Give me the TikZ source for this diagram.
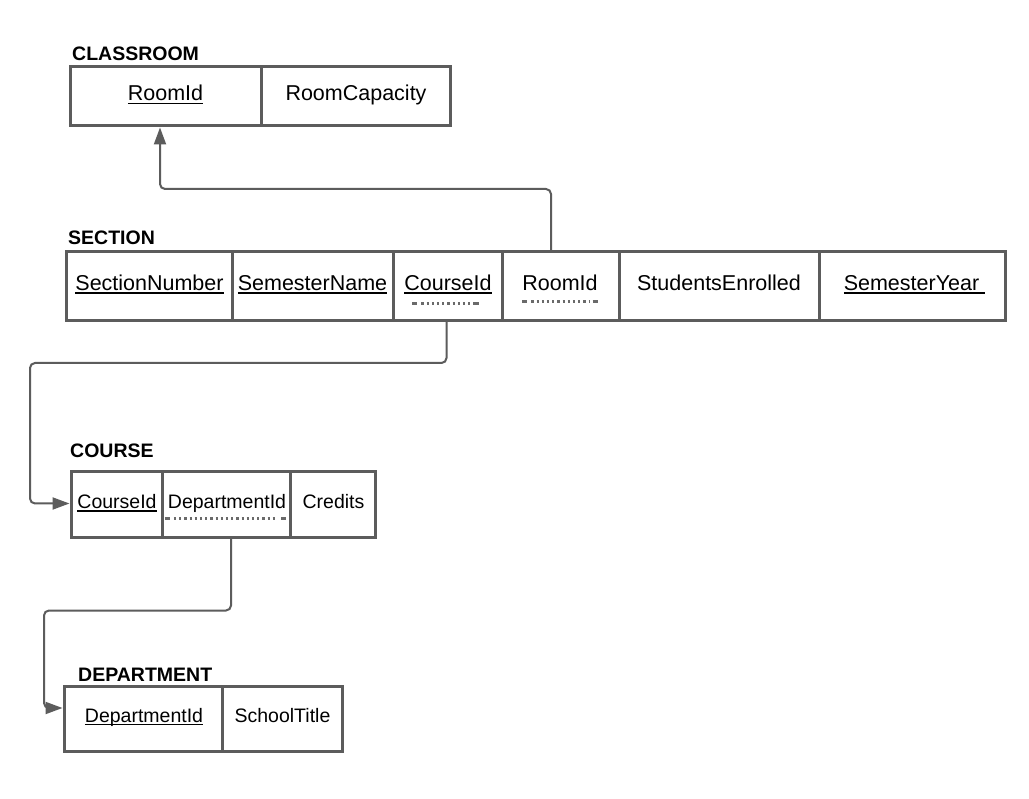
\documentclass[tikz,border=0pt]{standalone}
\usepackage{fontspec}
\setmainfont{Liberation Sans}
\usetikzlibrary{arrows.meta}
\definecolor{edgegray}{HTML}{5C5C5C}
\definecolor{fkgray}{HTML}{6A6A6A}
\begin{document}
\begin{tikzpicture}[x=1pt,y=-1pt,
  cell/.style={draw=edgegray, line width=3pt, inner sep=0pt, outer sep=0pt, fill=white},
  field/.style={anchor=base, inner sep=0pt, outer sep=0pt, text=black, font=\fontsize{21.5}{24}\selectfont},
  smallfield/.style={field, font=\fontsize{19.5}{22}\selectfont},
  title/.style={anchor=base west, inner sep=0pt, text=black, font=\fontsize{19.5}{22}\selectfont\bfseries},
  uline/.style={draw=black, line width=1.6pt},
  fkline/.style={draw=fkgray, line width=3pt, dash pattern=on 2.2pt off 3pt},
  fkend/.style={draw=fkgray, line width=3pt},
  conn/.style={draw=edgegray, line width=2pt, rounded corners=5pt,
    -{Triangle[length=17pt,width=12pt]}, shorten >=1.5pt}]
\useasboundingbox[fill=white] (0,0) rectangle (1029,799);

% ---------- CLASSROOM ----------
\node[title] (crtitle) at (72,61) {CLASSROOM};
\node[cell, minimum width=191, minimum height=59] (cr1) at (165.5,96.5) {};
\node[cell, minimum width=189, minimum height=59] (cr2) at (355.5,96.5) {};
\node[field] (cr1t) at (165.5,101) {RoomId};
\node[field] (cr2t) at (356,101) {RoomCapacity};
\draw[uline] ([yshift=-2.5pt]cr1t.base west) -- ([yshift=-2.5pt]cr1t.base east);

% ---------- SECTION ----------
\node[title] (sectitle) at (68,245) {SECTION};
\node[cell, minimum width=166, minimum height=69] (s1) at (149,286.5) {};
\node[cell, minimum width=161, minimum height=69] (s2) at (312.5,286.5) {};
\node[cell, minimum width=109, minimum height=69] (s3) at (447.5,286.5) {};
\node[cell, minimum width=117, minimum height=69] (s4) at (560.5,286.5) {};
\node[cell, minimum width=200, minimum height=69] (s5) at (719,286.5) {};
\node[cell, minimum width=186, minimum height=69] (s6) at (912,286.5) {};
\node[field] (s1t) at (149.5,290.5) {SectionNumber};
\node[field] (s2t) at (312.5,290.5) {SemesterName};
\node[field] (s3t) at (448,290.5) {CourseId};
\node[field] (s4t) at (560,290.5) {RoomId};
\node[field] (s5t) at (719,290.5) {StudentsEnrolled};
\node[field] (s6t) at (911.5,290.5) {SemesterYear};
\draw[uline] ([yshift=-2.5pt]s1t.base west) -- ([yshift=-2.5pt]s1t.base east);
\draw[uline] ([yshift=-2.5pt]s2t.base west) -- ([yshift=-2.5pt]s2t.base east);
\draw[uline] ([yshift=-2.5pt]s3t.base west) -- ([yshift=-2.5pt]s3t.base east);
\draw[uline] ([yshift=-2.5pt]s6t.base west) -- ([xshift=6pt,yshift=-2.5pt]s6t.base east);
% foreign-key markers: solid ends with a dotted run between
\draw[fkline] ([xshift=17pt,yshift=-13pt]s3t.base west) -- ([xshift=-17pt,yshift=-13pt]s3t.base east);
\draw[fkend] ([xshift=8pt,yshift=-13pt]s3t.base west) -- ([xshift=13pt,yshift=-13pt]s3t.base west);
\draw[fkend] ([xshift=-18pt,yshift=-13pt]s3t.base east) -- ([xshift=-13pt,yshift=-13pt]s3t.base east);
\draw[fkline] ([xshift=9pt,yshift=-11pt]s4t.base west) -- ([xshift=-9pt,yshift=-11pt]s4t.base east);
\draw[fkend] ([yshift=-11pt]s4t.base west) -- ([xshift=5pt,yshift=-11pt]s4t.base west);
\draw[fkend] ([xshift=-5pt,yshift=-11pt]s4t.base east) -- ([yshift=-11pt]s4t.base east);

% ---------- COURSE ----------
\node[title] (crstitle) at (70,457.5) {COURSE};
\node[cell, minimum width=91, minimum height=66] (c1) at (116.5,504.5) {};
\node[cell, minimum width=128, minimum height=66] (c2) at (226,504.5) {};
\node[cell, minimum width=85, minimum height=66] (c3) at (332.5,504.5) {};
\node[smallfield] (c1t) at (117,508.5) {CourseId};
\node[smallfield] (c2t) at (227,508.5) {DepartmentId};
\node[smallfield] (c3t) at (333.5,508.5) {Credits};
\draw[uline] ([yshift=-2.5pt]c1t.base west) -- ([yshift=-2.5pt]c1t.base east);
\draw[fkline] ([xshift=6pt,yshift=-10.5pt]c2t.base west) -- ([xshift=-9pt,yshift=-10.5pt]c2t.base east);
\draw[fkend] ([xshift=-3pt,yshift=-10.5pt]c2t.base west) -- ([xshift=2pt,yshift=-10.5pt]c2t.base west);
\draw[fkend] ([xshift=-5pt,yshift=-10.5pt]c2t.base east) -- ([yshift=-10.5pt]c2t.base east);

% ---------- DEPARTMENT ----------
\node[title] (deptitle) at (78,681.5) {DEPARTMENT};
\node[cell, minimum width=158, minimum height=65] (d1) at (143,718.5) {};
\node[cell, minimum width=120, minimum height=65] (d2) at (282,718.5) {};
\node[smallfield] (d1t) at (144,722) {DepartmentId};
\node[smallfield] (d2t) at (282.5,722) {SchoolTitle};
\draw[uline] ([yshift=-2.5pt]d1t.base west) -- ([yshift=-2.5pt]d1t.base east);

% ---------- references ----------
\draw[conn] ([xshift=-9.5pt]s4.north) |- (160,189) -- ([xshift=-5.5pt]cr1.south);
\draw[conn] ([xshift=-1pt]s3.south) |- (30,363) |- ([yshift=1pt]c1.west);
\draw[conn] ([xshift=5pt]c2.south) |- (44,610.5) |- ([yshift=10.5pt]d1.west);
\end{tikzpicture}
\end{document}
